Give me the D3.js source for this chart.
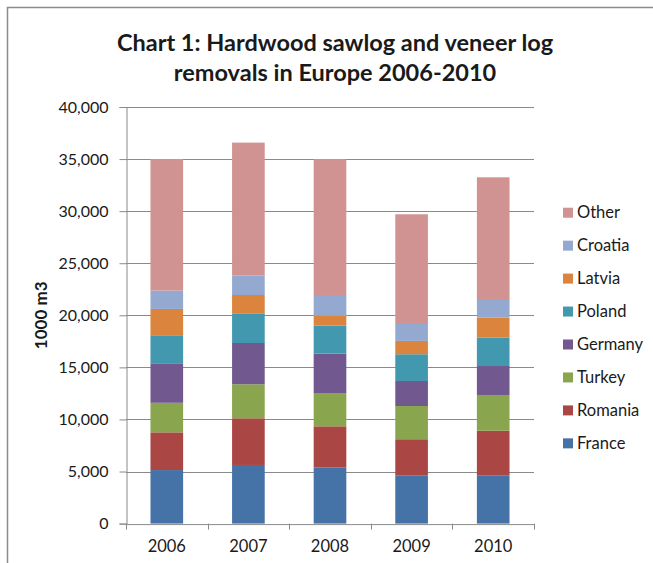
<!DOCTYPE html>
<html>
<head>
<meta charset="utf-8">
<script src="https://cdn.jsdelivr.net/npm/d3@7"></script>
<style>
  html, body { margin: 0; padding: 0; background: #fff; }
  svg { display: block; }
  text { font-family: Lato, "Open Sans", "Liberation Sans", sans-serif; fill: #1a1a1a; }
</style>
</head>
<body>
<svg id="chart" width="653" height="563"></svg>
<script>
const years = ["2006", "2007", "2008", "2009", "2010"];
const countries = ["France", "Romania", "Turkey", "Germany", "Poland", "Latvia", "Croatia", "Other"];
const colors = ["#4572A7", "#AA4643", "#89A54E", "#71588F", "#4198AF", "#DB843D", "#93A9CF", "#D19392"];
const France  = [5140, 5630, 5400, 4640, 4640];
const Romania = [3620, 4480, 3940, 3460, 4280];
const Turkey  = [2840, 3270, 3200, 3190, 3430];
const Germany = [3790, 3960, 3780, 2400, 2780];
const Poland  = [2690, 2850, 2690, 2570, 2720];
const Latvia  = [2530, 1760, 930, 1280, 1920];
const Croatia = [1760, 1860, 2010, 1720, 1700];
const Other   = [12640, 12770, 13050, 10440, 11780];
const yTicks = [0, 5000, 10000, 15000, 20000, 25000, 30000, 35000, 40000];
const titleLines = ["Chart 1: Hardwood sawlog and veneer log", "removals in Europe 2006-2010"];
const yTitle = "1000 m3";

const seriesValues = [France, Romania, Turkey, Germany, Poland, Latvia, Croatia, Other];
const table = years.map((y, i) => {
  const row = { year: y };
  countries.forEach((c, k) => row[c] = seriesValues[k][i]);
  return row;
});

const svg = d3.select("#chart");
const plot = { left: 126, right: 534, top: 107, bottom: 523.6 };

// outer frame (top and left edges visible)
svg.append("path")
  .attr("d", "M7.5,563 L7.5,7.5 L653,7.5")
  .attr("fill", "none").attr("stroke", "#8c8c8c").attr("stroke-width", 1.5);

const x = d3.scaleBand().domain(years).range([plot.left, plot.right]).paddingInner(0.6).paddingOuter(0.3);
const xb = d3.scaleBand().domain(years).range([plot.left, plot.right]);
const y = d3.scaleLinear().domain([0, 40000]).range([plot.bottom, plot.top]);

// gridlines
svg.append("g").selectAll("line").data(yTicks.filter(t => t > 0)).join("line")
  .attr("x1", plot.left).attr("x2", plot.right)
  .attr("y1", d => Math.round(y(d)) + 0.5).attr("y2", d => Math.round(y(d)) + 0.5)
  .attr("stroke", "#8a8a8a").attr("stroke-width", 1);

// y axis
const yAxis = svg.append("g").attr("transform", `translate(${plot.left + 0.5},0)`)
  .call(d3.axisLeft(y).tickValues(yTicks).tickSize(7).tickPadding(11).tickFormat(d3.format(",")));
yAxis.select(".domain").attr("stroke", "#8a8a8a");
yAxis.selectAll(".tick line").attr("stroke", "#8a8a8a");
yAxis.selectAll("text").attr("font-size", 16).attr("fill", "#1a1a1a")
  .style("font-family", "Lato, 'Open Sans', sans-serif");

// bars
const stack = d3.stack().keys(countries);
const layers = stack(table);
svg.append("g").selectAll("g").data(layers).join("g")
  .attr("fill", (d, i) => colors[i])
  .selectAll("rect").data(d => d).join("rect")
  .attr("x", d => x(d.data.year))
  .attr("width", x.bandwidth())
  .attr("y", d => y(d[1]))
  .attr("height", d => y(d[0]) - y(d[1]));

// x axis
const xAxis = svg.append("g").attr("transform", `translate(0,${plot.bottom + 0.5})`)
  .call(d3.axisBottom(xb).tickSize(0).tickPadding(16));
xAxis.select(".domain").attr("stroke", "#8a8a8a");
xAxis.selectAll("text").attr("font-size", 16.5).attr("fill", "#1a1a1a")
  .style("font-family", "Lato, 'Open Sans', sans-serif");
const bounds = years.map(d => xb(d)).concat([plot.right]);
svg.append("g").selectAll("line").data(bounds).join("line")
  .attr("x1", d => Math.round(d) + 0.5).attr("x2", d => Math.round(d) + 0.5)
  .attr("y1", plot.bottom).attr("y2", plot.bottom + 6)
  .attr("stroke", "#8a8a8a");

// y title
svg.append("text")
  .attr("transform", `translate(47,${(plot.top + plot.bottom) / 2}) rotate(-90)`)
  .attr("text-anchor", "middle")
  .attr("font-size", 17).attr("font-weight", "bold")
  .text(yTitle);

// title
svg.append("g").selectAll("text").data(titleLines).join("text")
  .attr("x", 335).attr("y", (d, i) => 51 + i * 30)
  .attr("text-anchor", "middle")
  .attr("font-size", 23.5).attr("font-weight", "bold")
  .text(d => d);

// legend (reverse order, Other on top)
const legendItems = countries.map((c, i) => ({ name: c, color: colors[i] })).reverse();
const lg = svg.append("g").selectAll("g").data(legendItems).join("g")
  .attr("transform", (d, i) => `translate(563,${212.7 + i * 32.95})`);
lg.append("rect").attr("x", 0).attr("y", -5).attr("width", 10).attr("height", 10).attr("fill", d => d.color);
lg.append("text").attr("x", 14).attr("y", 0).attr("dy", "0.35em")
  .attr("font-size", 16.5).text(d => d.name);
</script>
</body>
</html>
